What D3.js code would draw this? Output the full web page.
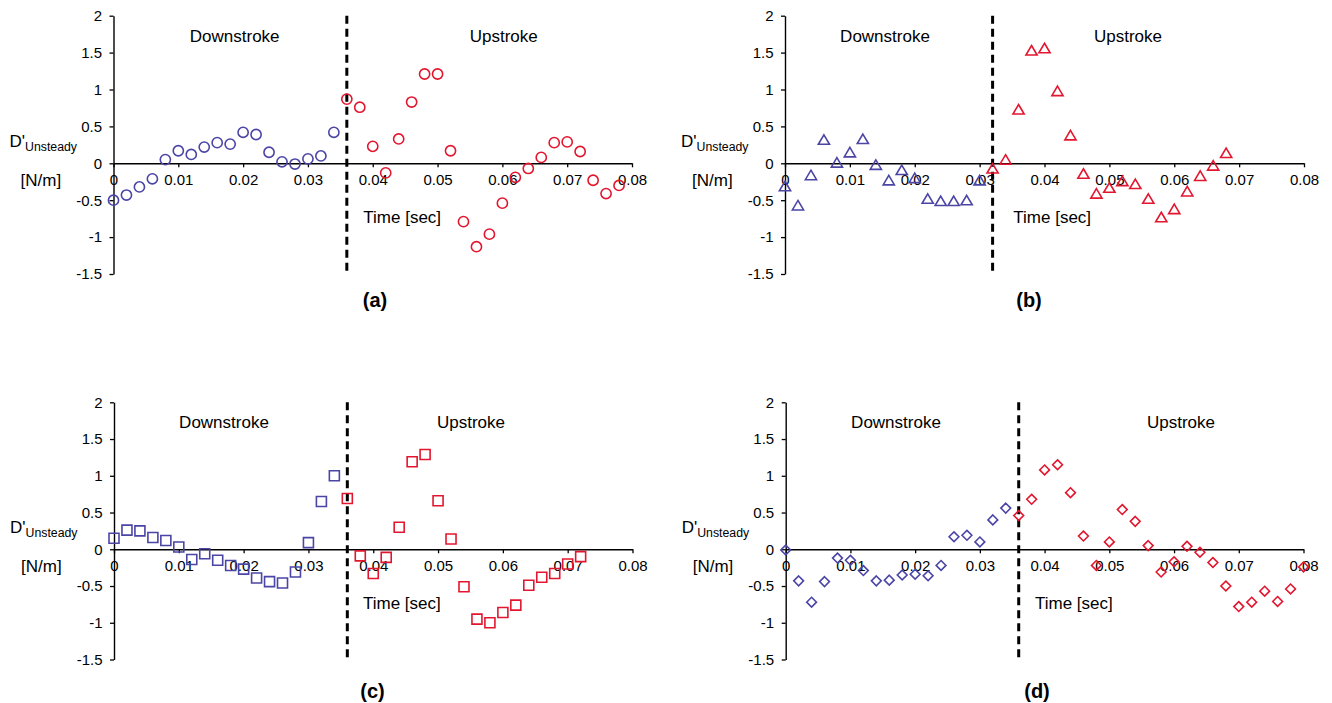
<!DOCTYPE html>
<html>
<head>
<meta charset="utf-8">
<script src="https://cdn.jsdelivr.net/npm/d3@7"></script>
<style>
  html, body { margin: 0; padding: 0; background: #fff; }
  svg { display: block; font-family: "Liberation Sans", Arial, sans-serif; }
</style>
</head>
<body>
<svg id="chart" width="1332" height="703"></svg>
<script>
// ---------------- DATA ----------------
const sampleTimes = [0, 0.002, 0.004, 0.006, 0.008, 0.010, 0.012, 0.014, 0.016, 0.018,
  0.020, 0.022, 0.024, 0.026, 0.028, 0.030, 0.032, 0.034, 0.036, 0.038,
  0.040, 0.042, 0.044, 0.046, 0.048, 0.050, 0.052, 0.054, 0.056, 0.058,
  0.060, 0.062, 0.064, 0.066, 0.068, 0.070, 0.072, 0.074, 0.076, 0.078, 0.080];

const xTickValues = [0, 0.01, 0.02, 0.03, 0.04, 0.05, 0.06, 0.07, 0.08];
const xTickLabels = ["0", "0.01", "0.02", "0.03", "0.04", "0.05", "0.06", "0.07", "0.08"];
const yTickValues = [2, 1.5, 1, 0.5, 0, -0.5, -1, -1.5];
const yTickLabels = ["2", "1.5", "1", "0.5", "0", "-0.5", "-1", "-1.5"];

// (a) circles: stroke boundary at t = 0.036
const aDownValues = [-0.50, -0.43, -0.32, -0.21, 0.05, 0.17, 0.12, 0.22, 0.28, 0.26,
  0.42, 0.39, 0.15, 0.02, -0.01, 0.06, 0.10, 0.42];
const aUpValues = [0.87, 0.76, 0.23, -0.13, 0.33, 0.83, 1.21, 1.21, 0.17, -0.79,
  -1.13, -0.96, -0.54, -0.19, -0.07, 0.08, 0.28, 0.29, 0.16, -0.23, -0.41, -0.30];
const aBoundary = 0.036;

// (b) triangles: stroke boundary at t = 0.032
const bDownValues = [-0.31, -0.57, -0.16, 0.32, 0.01, 0.15, 0.33, -0.02, -0.23, -0.09,
  -0.20, -0.48, -0.51, -0.51, -0.50, -0.23];
const bUpValues = [-0.07, 0.05, 0.73, 1.53, 1.56, 0.98, 0.38, -0.14, -0.41, -0.33,
  -0.24, -0.28, -0.48, -0.73, -0.62, -0.38, -0.17, -0.03, 0.14];
const bBoundary = 0.032;

// (c) squares: stroke boundary at t = 0.036
const cDownValues = [0.15, 0.26, 0.25, 0.16, 0.12, 0.03, -0.14, -0.06, -0.15, -0.22,
  -0.27, -0.39, -0.44, -0.46, -0.31, 0.09, 0.65, 1.00];
const cUpValues = [0.69, -0.09, -0.33, -0.11, 0.30, 1.19, 1.29, 0.66, 0.14, -0.51,
  -0.95, -1.00, -0.86, -0.76, -0.49, -0.38, -0.33, -0.20, -0.10];
const cBoundary = 0.036;

// (d) diamonds: stroke boundary at t = 0.036
const dDownValues = [-0.01, -0.43, -0.72, -0.44, -0.12, -0.15, -0.29, -0.43, -0.42, -0.35,
  -0.34, -0.36, -0.22, 0.17, 0.19, 0.10, 0.40, 0.56];
const dUpValues = [0.46, 0.68, 1.08, 1.15, 0.77, 0.18, -0.22, 0.10, 0.54, 0.38,
  0.05, -0.31, -0.17, 0.04, -0.04, -0.18, -0.50, -0.78, -0.72, -0.57, -0.71, -0.54, -0.24];
const dBoundary = 0.036;

const panelNames = ["(a)", "(b)", "(c)", "(d)"];

// ---------------- STYLE / LAYOUT ----------------
const BLUE = "#4B45A5";
const RED = "#E3162F";

const panels = [
  { name: panelNames[0], down: aDownValues, up: aUpValues, boundary: aBoundary, shape: "circle",
    x0: 113.5, x1: 632, yTop: 15.7, yBot: 274,
    downX: 234.7, upX: 503.7, timeX: 363.3, nameX: 375, nameY: 299.5 },
  { name: panelNames[1], down: bDownValues, up: bUpValues, boundary: bBoundary, shape: "triangle",
    x0: 785, x1: 1304, yTop: 15.7, yBot: 274,
    downX: 885, upX: 1128, timeX: 1013.3, nameX: 1029, nameY: 299.5 },
  { name: panelNames[2], down: cDownValues, up: cUpValues, boundary: cBoundary, shape: "square",
    x0: 114, x1: 632.5, yTop: 402.3, yBot: 659.5,
    downX: 224, upX: 471, timeX: 363, nameX: 372.5, nameY: 690.5 },
  { name: panelNames[3], down: dDownValues, up: dUpValues, boundary: dBoundary, shape: "diamond",
    x0: 785.7, x1: 1303.5, yTop: 402.3, yBot: 659.5,
    downX: 896, upX: 1181, timeX: 1035, nameX: 1037, nameY: 690.5 }
];

const shapePaths = {
  circle: d3.symbol().type(d3.symbolCircle).size(Math.PI * 5.1 * 5.1)(),
  triangle: "M0,-4.9L5.6,4.6L-5.6,4.6Z",
  square: "M-5,-5H5V5H-5Z",
  diamond: "M0,-4.9L4.9,0L0,4.9L-4.9,0Z"
};

const svg = d3.select("#chart");

panels.forEach(p => {
  const x = d3.scaleLinear().domain([0, 0.08]).range([p.x0, p.x1]);
  const y = d3.scaleLinear().domain([-1.5, 2]).range([p.yBot, p.yTop]);
  const g = svg.append("g");

  // y axis
  const yAxis = d3.axisLeft(y).tickValues(yTickValues)
    .tickFormat((d, i) => yTickLabels[i]).tickSize(4).tickSizeOuter(0).tickPadding(7.5);
  const ya = g.append("g").attr("transform", `translate(${p.x0},0)`).call(yAxis);
  ya.select(".domain").attr("stroke", "#000").attr("stroke-width", 1.4);
  ya.selectAll(".tick line").attr("stroke", "#000").attr("stroke-width", 1.3);
  ya.selectAll(".tick text").attr("font-size", 15).attr("fill", "#000")
    .attr("font-family", "Liberation Sans, Arial, sans-serif");

  // x axis at y = 0
  const xAxis = d3.axisBottom(x).tickValues(xTickValues)
    .tickFormat((d, i) => xTickLabels[i]).tickSize(4).tickSizeOuter(0).tickPadding(7.5);
  const xa = g.append("g").attr("transform", `translate(0,${y(0)})`).call(xAxis);
  xa.select(".domain").attr("stroke", "#000").attr("stroke-width", 1.4);
  xa.selectAll(".tick line").attr("stroke", "#000").attr("stroke-width", 1.3);
  xa.selectAll(".tick text").attr("font-size", 15).attr("fill", "#000")
    .attr("font-family", "Liberation Sans, Arial, sans-serif");

  // dashed boundary line
  g.append("line")
    .attr("x1", x(p.boundary)).attr("x2", x(p.boundary))
    .attr("y1", y(2)).attr("y2", y(-1.5))
    .attr("stroke", "#000").attr("stroke-width", 3)
    .attr("stroke-dasharray", "8,5");

  // y-axis title
  const yl = g.append("text").attr("x", p.x0 - 104).attr("y", y(0) - 16.5)
    .attr("font-size", 17).attr("fill", "#000");
  yl.append("tspan").text("D'");
  yl.append("tspan").attr("font-size", 12.3).attr("dy", 4).text("Unsteady");
  g.append("text").attr("x", p.x0 - 93).attr("y", y(0) + 23)
    .attr("font-size", 17).attr("fill", "#000").text("[N/m]");

  // annotations
  g.append("text").attr("x", p.downX).attr("y", y(2) + 26).attr("text-anchor", "middle")
    .attr("font-size", 17).attr("fill", "#000").text("Downstroke");
  g.append("text").attr("x", p.upX).attr("y", y(2) + 26).attr("text-anchor", "middle")
    .attr("font-size", 17).attr("fill", "#000").text("Upstroke");
  g.append("text").attr("x", p.timeX).attr("y", y(0) + 59.5)
    .attr("font-size", 17).attr("fill", "#000").text("Time [sec]");
  g.append("text").attr("x", p.nameX).attr("y", p.nameY).attr("text-anchor", "middle")
    .attr("dominant-baseline", "central")
    .attr("font-size", 20).attr("font-weight", "bold").attr("fill", "#000").text(p.name);

  // markers
  const downPts = p.down.map((v, i) => ({ t: sampleTimes[i], v }));
  const startIdx = sampleTimes.findIndex(t => Math.abs(t - p.boundary) < 1e-9);
  const upPts = p.up.map((v, i) => ({ t: sampleTimes[startIdx + i], v }));

  [[downPts, BLUE], [upPts, RED]].forEach(([pts, col]) => {
    g.append("g").selectAll("path").data(pts).join("path")
      .attr("d", shapePaths[p.shape])
      .attr("transform", d => `translate(${x(d.t)},${y(d.v)})`)
      .attr("fill", "none").attr("stroke", col).attr("stroke-width", 1.6);
  });
});
</script>
</body>
</html>
